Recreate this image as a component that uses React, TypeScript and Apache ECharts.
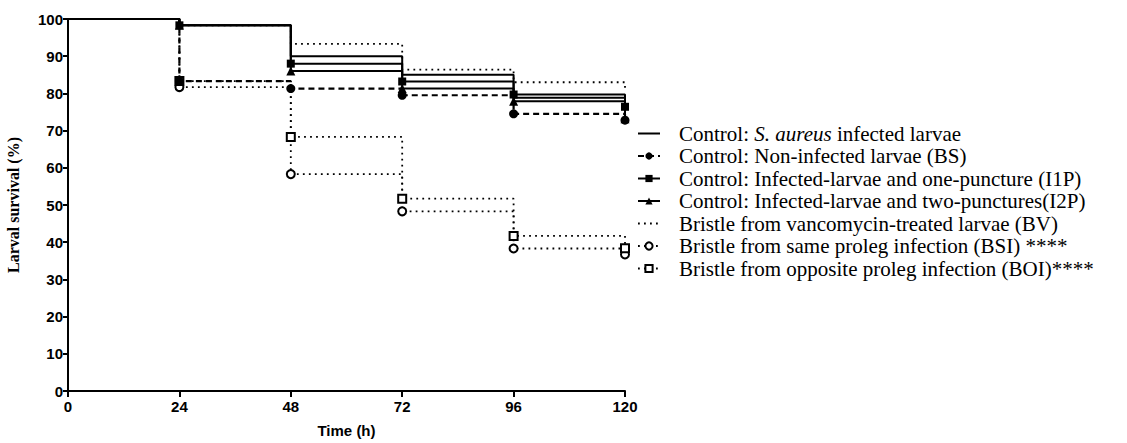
import React, { useEffect, useRef } from "react";
import * as echarts from "echarts";

const times = [0, 24, 48, 72, 96, 120];
const xTicks = [0, 24, 48, 72, 96, 120];
const yTicks = [0, 10, 20, 30, 40, 50, 60, 70, 80, 90, 100];

const names = [
  "Control: S. aureus infected larvae",
  "Control: Non-infected larvae (BS)",
  "Control: Infected-larvae and one-puncture (I1P)",
  "Control: Infected-larvae and two-punctures(I2P)",
  "Bristle from vancomycin-treated larvae (BV)",
  "Bristle from same proleg infection (BSI) ****",
  "Bristle from opposite proleg infection (BOI)****",
];

const controlSA = [100, 98.3, 90, 85, 78.8, 76.5];
const bs = [100, 83.3, 81.3, 79.5, 74.5, 72.8];
const i1p = [100, 98.3, 88, 83.2, 79.7, 76.4];
const i2p = [100, 98.3, 86, 81.3, 77.9, 73.2];
const bv = [100, 98.3, 93.3, 86.4, 83, 81];
const bsi = [100, 81.7, 58.3, 48.3, 38.3, 36.7];
const boi = [100, 83.3, 68.3, 51.7, 41.7, 38.4];

const toData = (vals: number[], showSym: boolean) =>
  times.map((t, i) =>
    i === 0 || !showSym ? { value: [t, vals[i]], symbol: "none" } : { value: [t, vals[i]] }
  );

export default function App() {
  const ref = useRef<HTMLDivElement>(null);
  useEffect(() => {
    if (!ref.current) return;
    const chart = echarts.init(ref.current, undefined, { renderer: "svg" });
    const solid = { color: "#000", width: 2, type: "solid" as const };
    const dashed = { color: "#000", width: 2.2, type: [6, 4] as any };
    const dotted = { color: "#000", width: 1.8, type: [1.8, 4.2] as any };
    const mk = (
      name: string,
      vals: number[],
      lineStyle: any,
      symbol: string,
      symbolSize: number,
      z: number
    ) => ({
      type: "line",
      name,
      step: "end",
      data: toData(vals, symbol !== "none"),
      symbol,
      symbolSize,
      showAllSymbol: true,
      lineStyle,
      itemStyle: { color: "#000", borderColor: "#000", borderWidth: symbol.startsWith("empty") ? 2 : 0 },
      emphasis: { disabled: true },
      z,
    });
    const fs = 21;
    chart.setOption({
      animation: false,
      backgroundColor: "#fff",
      grid: { left: 68, right: 502, top: 19, bottom: 50, containLabel: false },
      xAxis: {
        type: "value",
        min: 0,
        max: 120,
        interval: 24,
        name: "Time (h)",
        nameLocation: "middle",
        nameGap: 32,
        nameTextStyle: { fontFamily: "Liberation Sans", fontWeight: "bold", fontSize: 15, color: "#000" },
        axisLine: { lineStyle: { color: "#000", width: 2 } },
        axisTick: { show: true, length: 6, lineStyle: { color: "#000", width: 2 } },
        axisLabel: {
          fontFamily: "Liberation Sans",
          fontWeight: "bold",
          fontSize: 15,
          color: "#000",
          margin: 8,
          formatter: (v: number) => (xTicks.includes(v) ? String(v) : ""),
        },
        splitLine: { show: false },
      },
      yAxis: {
        type: "value",
        min: 0,
        max: 100,
        interval: 10,
        name: "Larval survival (%)",
        nameLocation: "middle",
        nameGap: 47,
        nameTextStyle: { fontFamily: "Liberation Serif", fontWeight: "bold", fontSize: 16, color: "#000" },
        axisLine: { show: true, lineStyle: { color: "#000", width: 2 } },
        axisTick: { show: true, length: 5, lineStyle: { color: "#000", width: 2 } },
        axisLabel: {
          fontFamily: "Liberation Sans",
          fontWeight: "bold",
          fontSize: 15,
          color: "#000",
          margin: 5,
          formatter: (v: number) => (yTicks.includes(v) ? String(v) : ""),
        },
        splitLine: { show: false },
      },
      legend: {
        orient: "vertical",
        left: 632,
        top: 118,
        itemWidth: 22,
        itemHeight: 9,
        itemGap: 1.5,
        data: names.map((n, i) =>
          i === 0 || i === 4 ? { name: n, itemStyle: { opacity: 0 } } : { name: n }
        ),
        selectedMode: false,
        textStyle: {
          fontFamily: "Liberation Serif",
          fontSize: fs,
          lineHeight: 20,
          color: "#000",
          padding: [0, 0, 0, 14],
          rich: {
            n: { fontFamily: "Liberation Serif", fontSize: fs, lineHeight: 20, color: "#000" },
            i: { fontFamily: "Liberation Serif", fontSize: fs, lineHeight: 20, color: "#000", fontStyle: "italic" },
          },
        },
        formatter: (name: string) =>
          name === names[0] ? "{n|Control: }{i|S. aureus}{n| infected larvae}" : name,
      },
      series: [
        mk(names[0], controlSA, solid, "none", 0, 3),
        mk(names[1], bs, dashed, "circle", 9, 5),
        mk(names[2], i1p, solid, "rect", 8, 6),
        mk(names[3], i2p, solid, "triangle", 9, 6),
        mk(names[4], bv, dotted, "none", 0, 2),
        mk(names[5], bsi, dotted, "emptyCircle", 8, 4),
        mk(names[6], boi, dotted, "emptyRect", 8, 4),
      ],
    });
    return () => chart.dispose();
  }, []);
  return <div ref={ref} style={{ width: 1127, height: 443, position: "absolute", left: 0, top: 0 }} />;
}
